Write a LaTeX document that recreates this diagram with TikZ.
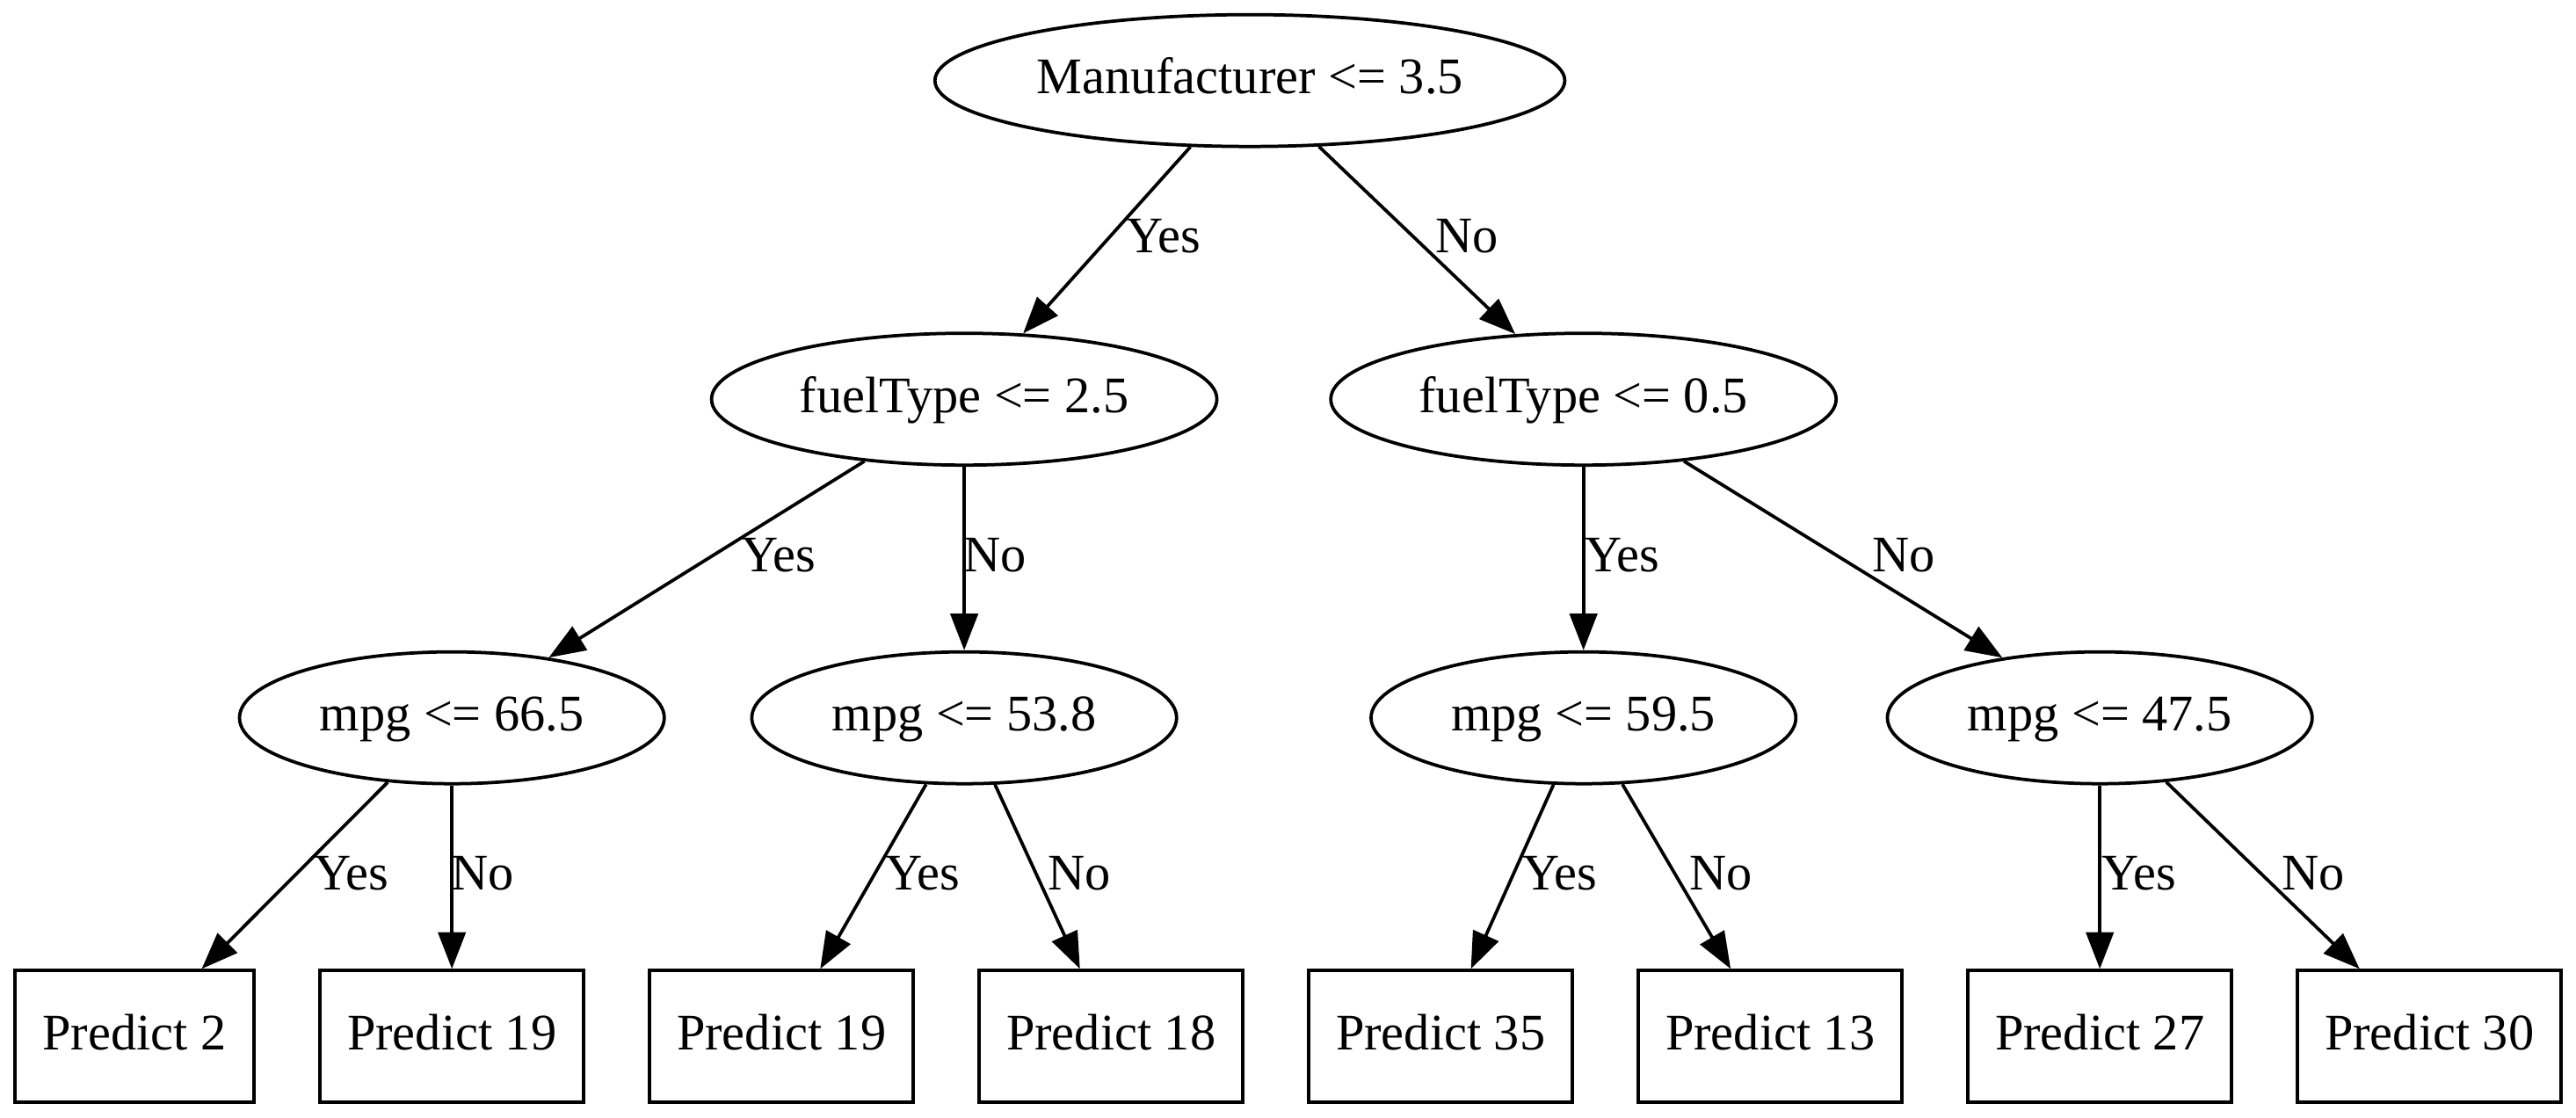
\documentclass[tikz,border=0pt]{standalone}
\usepackage{fontspec}
\setmainfont{Liberation Serif}
\usetikzlibrary{shapes.geometric,arrows.meta}
\tikzset{
  every node/.style={font=\fontsize{14pt}{16pt}\selectfont},
  base/.style={draw, line width=0.9pt, inner sep=0pt, text height=10pt, text depth=2.8pt, minimum height=36pt},
  split/.style={base, ellipse},
  leaf/.style={base, rectangle, minimum width=72pt},
  lbl/.style={anchor=base, inner sep=0pt},
  edge/.style={line width=0.9pt, -{Triangle[length=10pt,width=7.5pt]}}
}
\begin{document}
\begin{tikzpicture}
\useasboundingbox[fill=white] (0pt,0pt) rectangle (703.44pt,-305.04pt);
% decision nodes
\node[split, minimum width=172pt] (root) at (341.3pt,-22pt) {Manufacturer <= 3.5};
\node[split, minimum width=138pt] (f25) at (263.3pt,-109pt) {fuelType <= 2.5};
\node[split, minimum width=138pt] (f05) at (432.4pt,-109pt) {fuelType <= 0.5};
\node[split, minimum width=116pt] (m665) at (123.4pt,-196pt) {mpg <= 66.5};
\node[split, minimum width=116pt] (m538) at (263.3pt,-196pt) {mpg <= 53.8};
\node[split, minimum width=116pt] (m595) at (432.4pt,-196pt) {mpg <= 59.5};
\node[split, minimum width=116pt] (m475) at (573.4pt,-196pt) {mpg <= 47.5};
% leaves
\node[leaf, minimum width=65.4pt] (p2) at (36.7pt,-283pt) {Predict 2};
\node[leaf] (p19a) at (123.4pt,-283pt) {Predict 19};
\node[leaf] (p19b) at (213.4pt,-283pt) {Predict 19};
\node[leaf] (p18) at (303.4pt,-283pt) {Predict 18};
\node[leaf] (p35) at (393.4pt,-283pt) {Predict 35};
\node[leaf] (p13) at (483.4pt,-283pt) {Predict 13};
\node[leaf] (p27) at (573.4pt,-283pt) {Predict 27};
\node[leaf] (p30) at (663.4pt,-283pt) {Predict 30};
% edges
\draw[edge] (root) -- (f25);
\draw[edge] (root) -- (f05);
\draw[edge] (f25) -- (m665);
\draw[edge] (f25) -- (m538);
\draw[edge] (f05) -- (m595);
\draw[edge] (f05) -- (m475);
\draw[edge] (m665) -- (p2);
\draw[edge] (m665) -- (p19a);
\draw[edge] (m538) -- (p19b);
\draw[edge] (m538) -- (p18);
\draw[edge] (m595) -- (p35);
\draw[edge] (m595) -- (p13);
\draw[edge] (m475) -- (p27);
\draw[edge] (m475) -- (p30);
% edge labels
\node[lbl] (l1) at (317.7pt,-69.1pt) {Yes};
\node[lbl] (l2) at (400.6pt,-69.1pt) {No};
\node[lbl] (l3) at (212.6pt,-156.1pt) {Yes};
\node[lbl] (l4) at (271.8pt,-156.1pt) {No};
\node[lbl] (l5) at (443.0pt,-156.1pt) {Yes};
\node[lbl] (l6) at (519.9pt,-156.1pt) {No};
\node[lbl] (l7) at (95.9pt,-243.1pt) {Yes};
\node[lbl] (l8) at (131.8pt,-243.1pt) {No};
\node[lbl] (l9) at (251.9pt,-243.1pt) {Yes};
\node[lbl] (l10) at (294.7pt,-243.1pt) {No};
\node[lbl] (l11) at (426.0pt,-243.1pt) {Yes};
\node[lbl] (l12) at (470.0pt,-243.1pt) {No};
\node[lbl] (l13) at (584.1pt,-243.1pt) {Yes};
\node[lbl] (l14) at (631.6pt,-243.1pt) {No};
\end{tikzpicture}
\end{document}
